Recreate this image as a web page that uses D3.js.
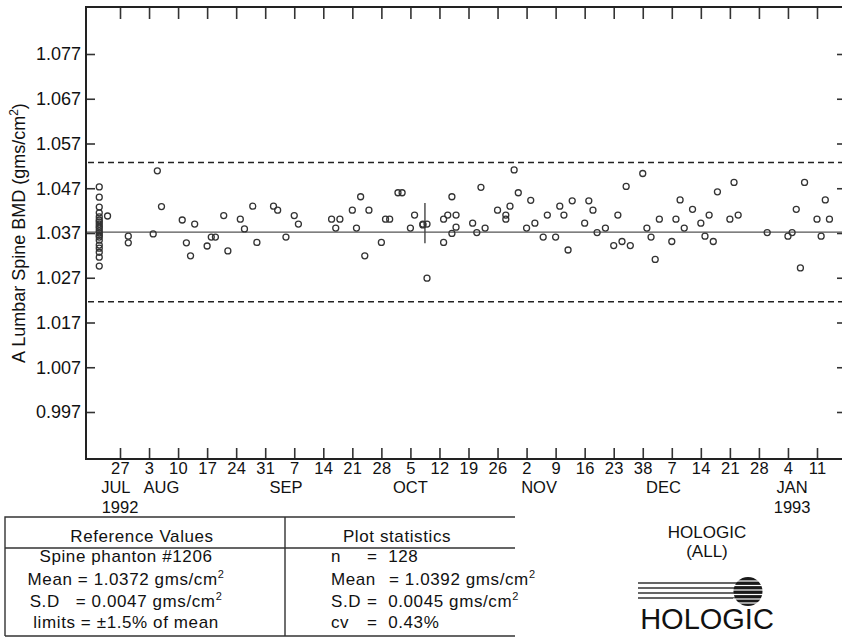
<!DOCTYPE html>
<html>
<head>
<meta charset="utf-8">
<script src="https://cdn.jsdelivr.net/npm/d3@7"></script>
<style>
  body { margin: 0; background: #fff; }
  svg { display: block; font-family: 'Liberation Sans', Arial, Helvetica, sans-serif; }
  text { fill: #111; white-space: pre; }
</style>
</head>
<body>
<div id="chart"></div>
<script>
// scan dates and spine phantom BMD (gms/cm2)
const scanDates = [
  '1992-07-22', '1992-07-22', '1992-07-22', '1992-07-22', '1992-07-22',
  '1992-07-22', '1992-07-22', '1992-07-22', '1992-07-22', '1992-07-22',
  '1992-07-22', '1992-07-22', '1992-07-22', '1992-07-22', '1992-07-22',
  '1992-07-22', '1992-07-22', '1992-07-22', '1992-07-22', '1992-07-22',
  '1992-07-24', '1992-07-29', '1992-07-29', '1992-08-04', '1992-08-05',
  '1992-08-06', '1992-08-11', '1992-08-12', '1992-08-13', '1992-08-14',
  '1992-08-17', '1992-08-18', '1992-08-19', '1992-08-21', '1992-08-22',
  '1992-08-25', '1992-08-26', '1992-08-28', '1992-08-29', '1992-09-02',
  '1992-09-03', '1992-09-05', '1992-09-07', '1992-09-08', '1992-09-16',
  '1992-09-17', '1992-09-18', '1992-09-21', '1992-09-22', '1992-09-23',
  '1992-09-24', '1992-09-25', '1992-09-28', '1992-09-29', '1992-09-30',
  '1992-10-02', '1992-10-03', '1992-10-05', '1992-10-06', '1992-10-08',
  '1992-10-08', '1992-10-09', '1992-10-09', '1992-10-13', '1992-10-13',
  '1992-10-14', '1992-10-15', '1992-10-15', '1992-10-16', '1992-10-16',
  '1992-10-20', '1992-10-21', '1992-10-22', '1992-10-23', '1992-10-26',
  '1992-10-28', '1992-10-28', '1992-10-29', '1992-10-30', '1992-10-31',
  '1992-11-02', '1992-11-03', '1992-11-04', '1992-11-06', '1992-11-07',
  '1992-11-09', '1992-11-10', '1992-11-11', '1992-11-12', '1992-11-13',
  '1992-11-16', '1992-11-17', '1992-11-18', '1992-11-19', '1992-11-21',
  '1992-11-23', '1992-11-24', '1992-11-25', '1992-11-26', '1992-11-27',
  '1992-11-30', '1992-12-01', '1992-12-02', '1992-12-03', '1992-12-04',
  '1992-12-07', '1992-12-08', '1992-12-09', '1992-12-10', '1992-12-12',
  '1992-12-14', '1992-12-15', '1992-12-16', '1992-12-17', '1992-12-18',
  '1992-12-21', '1992-12-22', '1992-12-23', '1992-12-30', '1993-01-04',
  '1993-01-05', '1993-01-06', '1993-01-07', '1993-01-08', '1993-01-11',
  '1993-01-12', '1993-01-13', '1993-01-14'
];
const bmdValues = [
  1.0473, 1.0450, 1.0428, 1.0415, 1.0406,
  1.0399, 1.0395, 1.0390, 1.0385, 1.0381,
  1.0375, 1.0370, 1.0365, 1.0361, 1.0354,
  1.0343, 1.0336, 1.0327, 1.0316, 1.0296,
  1.0408, 1.0363, 1.0348, 1.0368, 1.0509,
  1.0429, 1.0399, 1.0348, 1.0319, 1.0390,
  1.0341, 1.0361, 1.0361, 1.0409, 1.0330,
  1.0401, 1.0379, 1.0430, 1.0349, 1.0430,
  1.0421, 1.0361, 1.0409, 1.0390, 1.0401,
  1.0381, 1.0401, 1.0421, 1.0381, 1.0451,
  1.0319, 1.0421, 1.0349, 1.0401, 1.0401,
  1.0460, 1.0460, 1.0381, 1.0410, 1.0390,
  1.0388, 1.0390, 1.0269, 1.0349, 1.0401,
  1.0410, 1.0451, 1.0369, 1.0410, 1.0383,
  1.0392, 1.0371, 1.0472, 1.0381, 1.0421,
  1.0410, 1.0401, 1.0430, 1.0511, 1.0460,
  1.0381, 1.0443, 1.0392, 1.0361, 1.0410,
  1.0361, 1.0430, 1.0410, 1.0332, 1.0442,
  1.0392, 1.0442, 1.0421, 1.0371, 1.0381,
  1.0342, 1.0410, 1.0351, 1.0474, 1.0342,
  1.0503, 1.0381, 1.0361, 1.0311, 1.0401,
  1.0351, 1.0401, 1.0444, 1.0381, 1.0423,
  1.0392, 1.0363, 1.0410, 1.0351, 1.0462,
  1.0401, 1.0483, 1.0410, 1.0371, 1.0363,
  1.0371, 1.0423, 1.0292, 1.0483, 1.0401,
  1.0363, 1.0444, 1.0401
];

const yTicks = [0.997, 1.007, 1.017, 1.027, 1.037, 1.047, 1.057, 1.067, 1.077];
const weekLabels = ['27', '3', '10', '17', '24', '31', '7', '14', '21', '28', '5', '12',
  '19', '26', '2', '9', '16', '23', '38', '7', '14', '21', '28', '4', '11'];
const monthLabels = ['JUL', 'AUG', 'SEP', 'OCT', 'NOV', 'DEC', 'JAN'];
const monthLabelDates = ['1992-07-26', '1992-08-06', '1992-09-05', '1992-10-05',
  '1992-11-05', '1992-12-05', '1993-01-05'];
const yearLabels = ['1992', '1993'];
const yearLabelDates = ['1992-07-27', '1993-01-05'];

const refMean = 1.0372;
const refSD = 0.0047;
const limitPct = 0.015;
const plotN = 128;
const plotMean = 1.0392;
const plotSD = 0.0045;
const plotCV = 0.43;
const markerDate = '1992-10-08 12:00';

const parseDay = d3.timeParse('%Y-%m-%d');
const parseHour = d3.timeParse('%Y-%m-%d %H:%M');

const plotLeft = 86, plotRight = 845, plotTop = 7, plotBottom = 459;

const svg = d3.select('#chart').append('svg').attr('width', 842).attr('height', 637);

const xScale = d3.scaleTime()
  .domain([parseDay('1992-07-27'), parseDay('1993-01-11')])
  .range([120, 817]);
const yScale = d3.scaleLinear().domain([0.997, 1.077]).range([412, 54]);

const weekDates = d3.timeMonday.range(parseDay('1992-07-27'), parseDay('1993-01-12'));

// axes (ticks point inward)
const yAxis = svg.append('g')
  .attr('transform', `translate(${plotLeft},0)`)
  .call(d3.axisLeft(yScale).tickValues(yTicks).tickSize(-9).tickPadding(5)
    .tickFormat(d3.format('.3f')));
yAxis.selectAll('text').style('font-size', '18px');

svg.append('g')
  .attr('transform', `translate(${plotRight},0)`)
  .call(d3.axisRight(yScale).tickValues(yTicks).tickSize(-8).tickFormat(''));

const xAxis = svg.append('g')
  .attr('transform', `translate(0,${plotBottom})`)
  .call(d3.axisBottom(xScale).tickValues(weekDates).tickSize(-11).tickPadding(3)
    .tickFormat((d, i) => weekLabels[i]));
xAxis.selectAll('text').style('font-size', '16.5px').style('letter-spacing', '0.3px');

svg.append('g')
  .attr('transform', `translate(0,${plotTop})`)
  .call(d3.axisTop(xScale).tickValues(weekDates).tickSize(-12).tickFormat(''));

svg.selectAll('.domain').remove();
svg.selectAll('.tick line').attr('stroke', '#333').attr('stroke-width', 1.6);
svg.selectAll('.tick text').attr('fill', '#111')
  .style('font-family', "'Liberation Sans', Arial, Helvetica, sans-serif");

// month and year labels under the day numbers
svg.append('g').selectAll('text')
  .data(monthLabels)
  .join('text')
  .attr('x', (d, i) => xScale(parseDay(monthLabelDates[i])))
  .attr('y', 493)
  .attr('text-anchor', 'middle')
  .style('font-size', '16.5px')
  .text((d) => d);

svg.append('g').selectAll('text')
  .data(yearLabels)
  .join('text')
  .attr('x', (d, i) => xScale(parseDay(yearLabelDates[i])))
  .attr('y', 513)
  .attr('text-anchor', 'middle')
  .style('font-size', '16.5px')
  .text((d) => d);

// y axis title
const yTitle = svg.append('text')
  .attr('transform', `translate(25,${(plotTop + plotBottom) / 2}) rotate(-90)`)
  .attr('text-anchor', 'middle')
  .style('font-size', '18px');
yTitle.append('tspan').text('A Lumbar Spine BMD (gms/cm');
yTitle.append('tspan').attr('dy', -7).style('font-size', '12px').text('2');
yTitle.append('tspan').attr('dy', 7).text(')');

// reference mean and +-1.5% limits
svg.append('line')
  .attr('x1', plotLeft).attr('x2', plotRight)
  .attr('y1', yScale(refMean)).attr('y2', yScale(refMean))
  .attr('stroke', '#555').attr('stroke-width', 1.4);

[refMean * (1 + limitPct), refMean * (1 - limitPct)].forEach((v) => {
  svg.append('line')
    .attr('x1', plotLeft + 2).attr('x2', plotRight)
    .attr('y1', yScale(v)).attr('y2', yScale(v))
    .attr('stroke', '#222').attr('stroke-width', 1.7)
    .attr('stroke-dasharray', '6,4');
});

// plot mean +- SD marker
svg.append('line')
  .attr('x1', xScale(parseHour(markerDate))).attr('x2', xScale(parseHour(markerDate)))
  .attr('y1', yScale(plotMean + plotSD)).attr('y2', yScale(plotMean - plotSD))
  .attr('stroke', '#444').attr('stroke-width', 1.4);

// scans
const points = scanDates.map((d, i) => ({ date: parseDay(d), bmd: bmdValues[i] }));
svg.append('g').selectAll('circle')
  .data(points)
  .join('circle')
  .attr('cx', (d) => xScale(d.date))
  .attr('cy', (d) => yScale(d.bmd))
  .attr('r', 3)
  .attr('fill', 'none')
  .attr('stroke', '#333')
  .attr('stroke-width', 1.3);

// frame
svg.append('path')
  .attr('d', `M${plotRight},${plotTop}H${plotLeft}V${plotBottom}H${plotRight}`)
  .attr('fill', 'none')
  .attr('stroke', '#222')
  .attr('stroke-width', 2);

// statistics table
const table = svg.append('g').style('font-size', '17px').style('letter-spacing', '0.6px');
table.append('path')
  .attr('d', 'M5,636V517H515 M5,548H515 M5,636H515 M285,517V636')
  .attr('fill', 'none').attr('stroke', '#333').attr('stroke-width', 1.4);

table.append('text').attr('x', 142).attr('y', 542).attr('text-anchor', 'middle')
  .text('Reference Values');
table.append('text').attr('x', 397).attr('y', 542).attr('text-anchor', 'middle')
  .text('Plot statistics');

function addRow(x, y, anchor, parts) {
  const t = table.append('text').attr('x', x).attr('y', y).attr('text-anchor', anchor);
  parts.forEach((p) => {
    if (p.sup) {
      t.append('tspan').attr('dy', -7).style('font-size', '11px').text(p.sup);
      t.append('tspan').attr('dy', 7).text('');
    } else {
      const s = t.append('tspan').text(p.text);
      if (p.x !== undefined) s.attr('x', p.x);
    }
  });
}

addRow(126, 562, 'middle', [{ text: 'Spine phanton #1206' }]);
addRow(126, 585, 'middle', [{ text: `Mean = ${refMean.toFixed(4)} gms/cm` }, { sup: '2' }]);
addRow(126, 607, 'middle', [{ text: `S.D   = ${refSD.toFixed(4)} gms/cm` }, { sup: '2' }]);
addRow(126, 628, 'middle', [{ text: `limits = \u00b1${(limitPct * 100).toFixed(1)}% of mean` }]);

addRow(331, 562, 'start', [{ text: 'n' }, { text: `=  ${plotN}`, x: 367 }]);
addRow(331, 585, 'start', [{ text: 'Mean' }, { text: `= ${plotMean.toFixed(4)} gms/cm`, x: 389 }, { sup: '2' }]);
addRow(331, 607, 'start', [{ text: 'S.D' }, { text: `=  ${plotSD.toFixed(4)} gms/cm`, x: 367 }, { sup: '2' }]);
addRow(331, 628, 'start', [{ text: 'cv' }, { text: `=  ${plotCV.toFixed(2)}%`, x: 367 }]);

// HOLOGIC label and logo
svg.append('text').attr('x', 707).attr('y', 538).attr('text-anchor', 'middle')
  .style('font-size', '17px').text('HOLOGIC');
svg.append('text').attr('x', 707).attr('y', 557).attr('text-anchor', 'middle')
  .style('font-size', '17px').text('(ALL)');

const logo = svg.append('g');
[583, 588, 593, 598].forEach((ly) => {
  logo.append('line').attr('x1', 638).attr('x2', 740).attr('y1', ly).attr('y2', ly)
    .attr('stroke', '#333').attr('stroke-width', 1.4);
});
logo.append('circle').attr('cx', 748).attr('cy', 591.5).attr('r', 14.5).attr('fill', '#1a1a1a');
[581, 585.5, 590, 594.5, 599, 603].forEach((ly) => {
  logo.append('line').attr('x1', 733).attr('x2', 763).attr('y1', ly).attr('y2', ly)
    .attr('stroke', '#fff').attr('stroke-width', 1.2);
});
svg.append('text').attr('x', 707).attr('y', 629).attr('text-anchor', 'middle')
  .style('font-size', '29px').text('HOLOGIC');
</script>
</body>
</html>
